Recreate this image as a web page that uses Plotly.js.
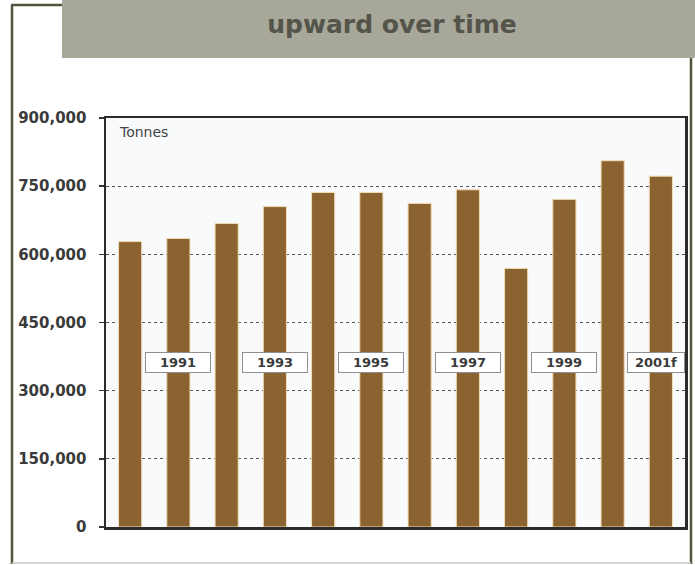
<!DOCTYPE html>
<html>
<head>
<meta charset="utf-8">
<script src="https://cdn.plot.ly/plotly-3.0.1.min.js"></script>
<style>
  html, body { margin: 0; padding: 0; background: #ffffff; }
  #chart { width: 695px; height: 565px; }
</style>
</head>
<body>
<div id="chart"></div>
<script>
// Annual output, tonnes
const years = ['1990', '1991', '1992', '1993', '1994', '1995', '1996', '1997', '1998', '1999', '2000', '2001f'];
const tonnes = [628000, 635000, 668000, 705000, 736000, 736000, 712000, 742000, 569000, 721000, 806000, 772000];

// Year captions shown on the boxed labels
const labelYears = ['1991', '1993', '1995', '1997', '1999', '2001f'];
const labelLevel = 363000;

// Value-axis ticks
const tickVals = [0, 150000, 300000, 450000, 600000, 750000, 900000];
const tickText = ['0', '150,000', '300,000', '450,000', '600,000', '750,000', '900,000'];

const titleText = 'upward over time';
const unitText = 'Tonnes';

// Page geometry (px) used to place the decorative frame around the plot
const W = 695, H = 565;
const M = { l: 106, r: 10, t: 118, b: 38 };
const PW = W - M.l - M.r, PH = H - M.t - M.b;
const px = x => (x - M.l) / PW;
const py = y => (H - M.b - y) / PH;

const frameColor = '#55553f';
const barColor = '#8b6330';

const trace = {
  type: 'bar',
  x: years,
  y: tonnes,
  marker: { color: barColor, line: { color: '#f1dcb4', width: 1 } },
  hoverinfo: 'x+y'
};

// Boxed year labels sit on their bars; category index keeps numeric-looking names unambiguous
const annotations = labelYears.map((yr, i) => {
  const last = i === labelYears.length - 1;
  return {
    x: years.indexOf(yr), y: labelLevel, xref: 'x', yref: 'y',
    text: yr,
    showarrow: false,
    font: { family: 'DejaVu Sans', size: 13, weight: 700, color: '#3a3a3a' },
    bgcolor: '#ffffff',
    bordercolor: '#8f8f8f',
    borderwidth: 1,
    borderpad: 1,
    width: last ? 54 : 62,
    height: 17,
    xshift: last ? -5 : 0
  };
});

annotations.push({
  x: px(117), y: py(132), xref: 'paper', yref: 'paper',
  xanchor: 'left', yanchor: 'middle',
  text: unitText, showarrow: false,
  font: { family: 'DejaVu Sans', size: 14, color: '#444444' }
});

const shapes = [
  // grey heading band
  { type: 'rect', xref: 'paper', yref: 'paper', layer: 'below',
    x0: px(62), x1: px(W + 2), y0: py(58), y1: py(-2),
    fillcolor: '#a7a79a', line: { width: 0 } },
  // outer panel border
  { type: 'line', xref: 'paper', yref: 'paper', x0: px(12), x1: px(12), y0: py(5), y1: py(564),
    line: { color: frameColor, width: 2.5 } },
  { type: 'line', xref: 'paper', yref: 'paper', x0: px(11), x1: px(62), y0: py(5), y1: py(5),
    line: { color: frameColor, width: 2.5 } },
  { type: 'line', xref: 'paper', yref: 'paper', x0: px(691), x1: px(691), y0: py(58), y1: py(564),
    line: { color: frameColor, width: 2.5 } },
  { type: 'line', xref: 'paper', yref: 'paper', x0: px(12), x1: px(691), y0: py(563), y1: py(563),
    line: { color: '#c8c8c8', width: 1.5 } }
];

const layout = {
  width: W, height: H,
  margin: M,
  paper_bgcolor: '#ffffff',
  plot_bgcolor: '#f8fafc',
  showlegend: false,
  bargap: 0.52,
  title: {
    text: '<b>' + titleText + '</b>',
    font: { family: 'DejaVu Sans', size: 25, color: '#54544a' },
    xref: 'container', yref: 'container',
    x: 392 / W, y: 1 - 24 / H, xanchor: 'center', yanchor: 'middle'
  },
  xaxis: {
    type: 'category',
    range: [-0.5, years.length - 0.5],
    showticklabels: false,
    ticks: '',
    showgrid: false,
    zeroline: false,
    showline: true, mirror: true,
    linecolor: '#2b2b2b', linewidth: 2.5,
    fixedrange: true
  },
  yaxis: {
    range: [0, 900000],
    tickvals: tickVals,
    ticktext: tickText,
    tickfont: { family: 'DejaVu Sans', size: 15, weight: 700, color: '#3a3a3a' },
    ticks: 'outside', ticklen: 5, tickwidth: 1.5, tickcolor: '#333333',
    ticklabelstandoff: 9,
    showgrid: true, gridcolor: '#555555', gridwidth: 1.2, griddash: 'dot',
    zeroline: false,
    showline: true, mirror: true,
    linecolor: '#2b2b2b', linewidth: 2.5,
    fixedrange: true
  },
  annotations: annotations,
  shapes: shapes
};

Plotly.newPlot('chart', [trace], layout, { displayModeBar: false, staticPlot: true });
</script>
</body>
</html>
